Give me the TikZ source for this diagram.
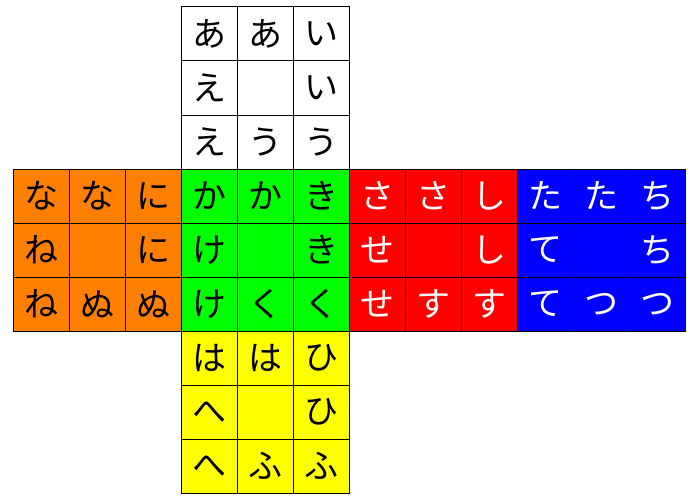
\documentclass[tikz,border=0pt]{standalone}
\usepackage{xcolor,tikz,fontspec}
\usetikzlibrary{positioning}
\newfontfamily\jpfont{Noto Sans CJK JP}
\definecolor{faceorange}{RGB}{255,128,0}
\definecolor{facegreen}{RGB}{0,255,0}
\definecolor{facered}{RGB}{255,0,0}
\definecolor{faceblue}{RGB}{0,0,255}
\definecolor{faceyellow}{RGB}{255,255,0}
\tikzset{
  cell/.style={draw=black,line width=1pt,minimum width=56pt,minimum height=54pt,inner sep=0pt,
    font=\jpfont\fontsize{34}{34}\selectfont}
}
% \face{name}{x0}{y0}{fill}{text}{nine kana}
\newcommand{\face}[6]{%
  \foreach \k [count=\i from 0] in {#6}{
    \pgfmathtruncatemacro{\col}{mod(\i,3)}
    \pgfmathtruncatemacro{\row}{int(\i/3)}
    \node[cell,fill=#4,text=#5] (#1\i) at (#2+56*\col+28,#3+54*\row+27) {\k};
  }%
}

\begin{document}
\begin{tikzpicture}[x=1pt,y=-1pt]
  \useasboundingbox (0,0) rectangle (700,500);

  \face{up}{181}{7}{white}{black}{あ,あ,い,え,{},い,え,う,う}
  \face{left}{13}{169}{faceorange}{black}{な,な,に,ね,{},に,ね,ぬ,ぬ}
  \face{front}{181}{169}{facegreen}{black}{か,か,き,け,{},き,け,く,く}
  \face{right}{349}{169}{facered}{white}{さ,さ,し,せ,{},し,せ,す,す}
  \face{back}{517}{169}{faceblue}{white}{た,た,ち,て,{},ち,て,つ,つ}
  \face{down}{181}{331}{faceyellow}{black}{は,は,ひ,へ,{},ひ,へ,ふ,ふ}
\end{tikzpicture}
\end{document}
